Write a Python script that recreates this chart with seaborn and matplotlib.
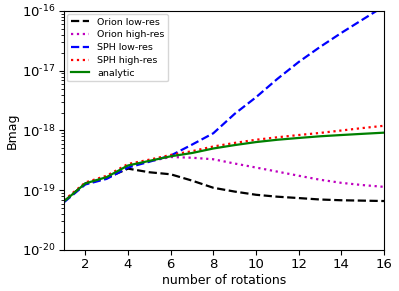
import numpy as np
import pandas as pd
import seaborn as sns
import matplotlib
matplotlib.use("Agg")
import matplotlib.pyplot as plt
from matplotlib.ticker import FuncFormatter, LogLocator

rotations = list(range(1, 17))

orion_low = [6.5e-20, 1.3e-19, 1.6e-19, 2.3e-19, 2.0e-19, 1.85e-19, 1.45e-19, 1.1e-19,
             9.5e-20, 8.4e-20, 7.8e-20, 7.4e-20, 7.0e-20, 6.8e-20, 6.7e-20, 6.6e-20]
orion_high = [6.6e-20, 1.3e-19, 1.65e-19, 2.55e-19, 3.05e-19, 3.6e-19, 3.5e-19, 3.3e-19,
              2.8e-19, 2.4e-19, 2.05e-19, 1.75e-19, 1.5e-19, 1.33e-19, 1.22e-19, 1.14e-19]
sph_low = [6.3e-20, 1.25e-19, 1.55e-19, 2.4e-19, 3.0e-19, 3.8e-19, 5.8e-19, 9.0e-19,
           1.9e-18, 3.6e-18, 7.3e-18, 1.4e-17, 2.5e-17, 4.3e-17, 7.2e-17, 1.2e-16]
sph_high = [6.8e-20, 1.35e-19, 1.75e-19, 2.75e-19, 3.25e-19, 3.9e-19, 4.5e-19, 5.4e-19,
            6.2e-19, 7.0e-19, 7.7e-19, 8.4e-19, 9.1e-19, 1.0e-18, 1.1e-18, 1.2e-18]
analytic = [6.5e-20, 1.3e-19, 1.66e-19, 2.6e-19, 3.1e-19, 3.7e-19, 4.2e-19, 5.0e-19,
            5.7e-19, 6.4e-19, 7.0e-19, 7.5e-19, 8.0e-19, 8.4e-19, 8.8e-19, 9.2e-19]

series = [
    ("Orion low-res", orion_low, "black", "--"),
    ("Orion high-res", orion_high, "m", ":"),
    ("SPH low-res", sph_low, "blue", "--"),
    ("SPH high-res", sph_high, "red", ":"),
    ("analytic", analytic, "green", "-"),
]

# plain matplotlib look, seaborn only for drawing the lines
plt.rcParams['font.family'] = ['DejaVu Sans']

fig = plt.figure(figsize=(3.99, 2.91), dpi=100)
ax = fig.add_axes([0.1604, 0.1409, 0.802, 0.8213])

for name, vals, col, ls in series:
    df = pd.DataFrame({"rot": rotations, "bmag": vals})
    sns.lineplot(data=df, x="rot", y="bmag", color=col, linestyle=ls,
                 linewidth=1.6, label=name, ax=ax)

ax.set_yscale("log")
ax.set_xlim(1, 16)
ax.set_ylim(1e-20, 1e-16)
ax.set_xticks([2, 4, 6, 8, 10, 12, 14, 16])


def pow_label(v, pos):
    # old-style label with a short hyphen in the exponent
    e = int(round(np.log10(v)))
    return r"$10^{\text{-}%d}$" % (-e) if e < 0 else r"$10^{%d}$" % e


ax.yaxis.set_major_locator(LogLocator(base=10))
ax.yaxis.set_major_formatter(FuncFormatter(pow_label))
ax.set_xlabel("number of rotations", fontsize=9, labelpad=2)
ax.set_ylabel("Bmag", fontsize=9)
ax.yaxis.set_label_coords(-0.14, 0.5)
ax.tick_params(labelsize=9.5, pad=2.5)
ax.legend(loc="upper left", fontsize=6.8, labelspacing=0.4, borderaxespad=0.3)

fig.savefig("out.png", dpi=100)
